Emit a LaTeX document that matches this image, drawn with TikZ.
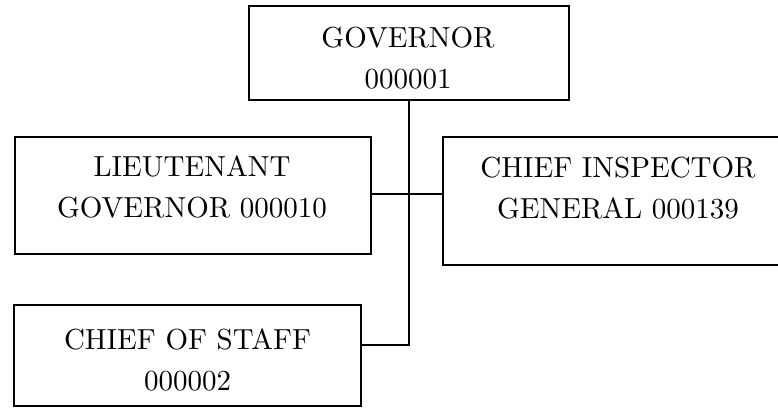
\documentclass[tikz,border=0pt]{standalone}
\usepackage{fontspec}
\setmainfont{lmroman10-regular}[Extension=.otf]
\begin{document}
\begin{tikzpicture}[x=1pt,y=1pt,
  post/.style={draw=black, line width=1.8pt, rectangle, inner sep=0pt},
  caption/.style={anchor=north, align=center, inner sep=0pt,
    font=\fontsize{29}{41}\selectfont},
  wire/.style={draw=black, line width=1.8pt}]
  \clip (0,0) rectangle (778,409);
  \fill[white] (0,0) rectangle (778,409);

  % positions of the offices
  \node[post, minimum width=320pt, minimum height=94pt]  (gov) at (409,356) {};
  \node[post, minimum width=356pt, minimum height=117pt] (ltg) at (193,213.5) {};
  \node[post, minimum width=350pt, minimum height=128pt] (cig) at (618,208) {};
  \node[post, minimum width=347pt, minimum height=101pt] (cos) at (187.5,53.5) {};

  % titles
  \node[caption] (govt) at (408,382) {GOVERNOR\\000001};
  \node[caption] (ltgt) at (192,253) {LIEUTENANT\\GOVERNOR 000010};
  \node[caption] (cigt) at (618,252) {CHIEF INSPECTOR\\GENERAL 000139};
  \node[caption] (cost) at (187.5,80) {CHIEF OF STAFF\\000002};

  % reporting lines
  \coordinate (mid) at (409,215);
  \coordinate (low) at (409,64);
  \draw[wire] (gov.south) -- (low) -- (cos.east |- low);
  \draw[wire] (ltg.east |- mid) -- (cig.west |- mid);
\end{tikzpicture}
\end{document}
